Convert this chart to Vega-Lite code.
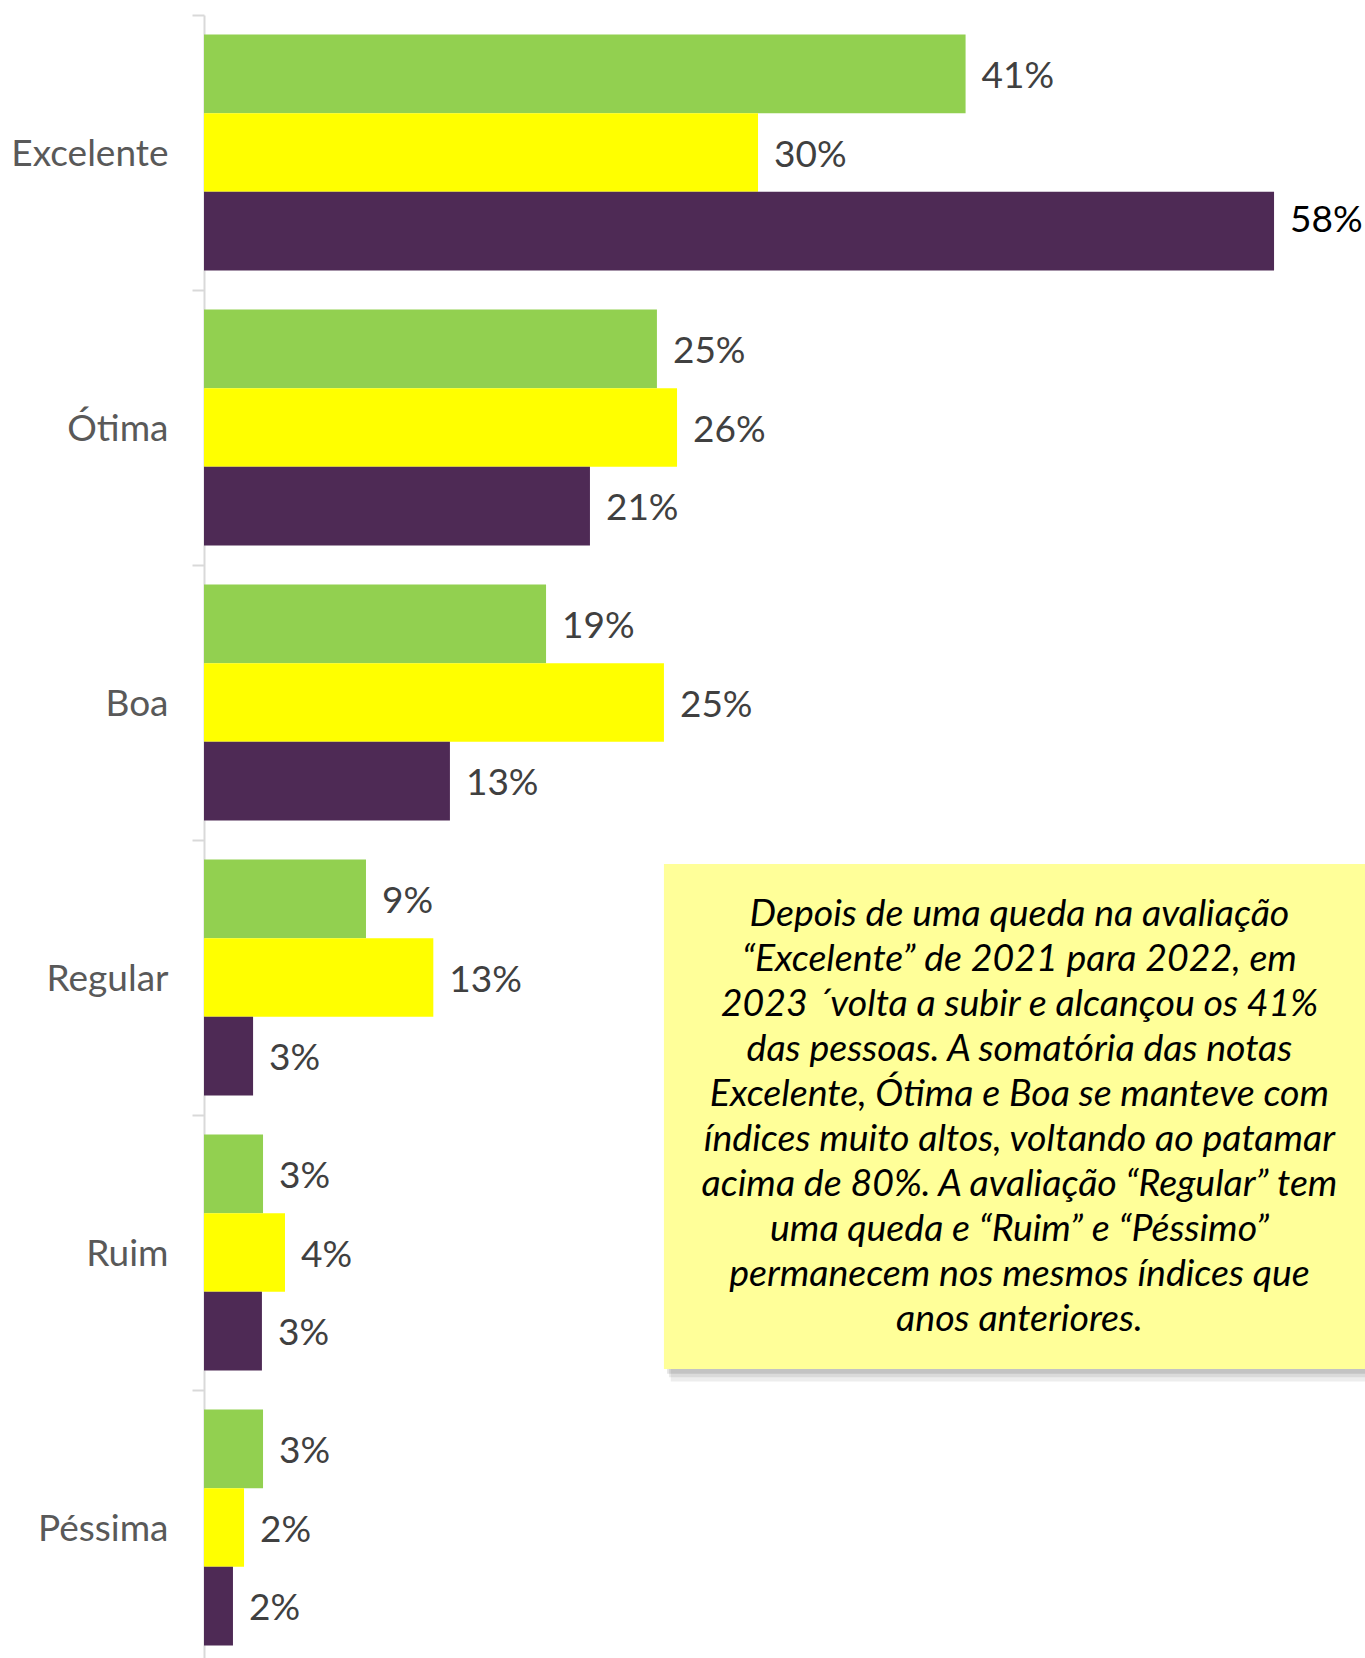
{
  "$schema": "https://vega.github.io/schema/vega-lite/v6.json",
  "width": 1161,
  "height": 1643,
  "autosize": {"type": "none"},
  "padding": {"left": 204, "top": 15, "right": 0, "bottom": 0},
  "background": "#ffffff",
  "config": {"view": {"stroke": null}, "font": "Lato", "text": {"lineBreak": "\n"}},
  "layer": [
    {
      "data": {
        "values": [
          {"avaliacao": "Excelente", "ano": "2023", "valor": 41.28, "rotulo": "41%"},
          {"avaliacao": "Excelente", "ano": "2022", "valor": 30.03, "rotulo": "30%"},
          {"avaliacao": "Excelente", "ano": "2021", "valor": 58.0, "rotulo": "58%"},
          {"avaliacao": "Ótima", "ano": "2023", "valor": 24.55, "rotulo": "25%"},
          {"avaliacao": "Ótima", "ano": "2022", "valor": 25.64, "rotulo": "26%"},
          {"avaliacao": "Ótima", "ano": "2021", "valor": 20.92, "rotulo": "21%"},
          {"avaliacao": "Boa", "ano": "2023", "valor": 18.54, "rotulo": "19%"},
          {"avaliacao": "Boa", "ano": "2022", "valor": 24.93, "rotulo": "25%"},
          {"avaliacao": "Boa", "ano": "2021", "valor": 13.33, "rotulo": "13%"},
          {"avaliacao": "Regular", "ano": "2023", "valor": 8.78, "rotulo": "9%"},
          {"avaliacao": "Regular", "ano": "2022", "valor": 12.43, "rotulo": "13%"},
          {"avaliacao": "Regular", "ano": "2021", "valor": 2.66, "rotulo": "3%"},
          {"avaliacao": "Ruim", "ano": "2023", "valor": 3.2, "rotulo": "3%"},
          {"avaliacao": "Ruim", "ano": "2022", "valor": 4.39, "rotulo": "4%"},
          {"avaliacao": "Ruim", "ano": "2021", "valor": 3.14, "rotulo": "3%"},
          {"avaliacao": "Péssima", "ano": "2023", "valor": 3.2, "rotulo": "3%"},
          {"avaliacao": "Péssima", "ano": "2022", "valor": 2.17, "rotulo": "2%"},
          {"avaliacao": "Péssima", "ano": "2021", "valor": 1.57, "rotulo": "2%"}
        ]
      },
      "encoding": {
        "y": {
          "field": "avaliacao",
          "type": "nominal",
          "sort": ["Excelente", "Ótima", "Boa", "Regular", "Ruim", "Péssima"],
          "scale": {"paddingInner": 0, "paddingOuter": 0, "range": [0, 1650]},
          "axis": {
            "title": null,
            "tickBand": "extent",
            "domainColor": "#D9D9D9",
            "domainWidth": 2,
            "tickColor": "#D9D9D9",
            "tickWidth": 2,
            "tickSize": 12,
            "labelFont": "Lato",
            "labelFontSize": 37,
            "labelColor": "#595959",
            "labelPadding": 24,
            "labelOffset": 2,
            "grid": false
          }
        },
        "yOffset": {
          "field": "ano",
          "type": "nominal",
          "sort": ["2023", "2022", "2021"],
          "scale": {"paddingInner": 0, "paddingOuter": 0.248}
        }
      },
      "layer": [
        {
          "mark": {"type": "bar"},
          "encoding": {
            "x": {"field": "valor", "type": "quantitative", "scale": {"domain": [0, 62.93], "nice": false, "zero": true}, "axis": null},
            "color": {
              "field": "ano",
              "type": "nominal",
              "scale": {"domain": ["2023", "2022", "2021"], "range": ["#92D050", "#FFFF00", "#4E2A55"]},
              "legend": null
            }
          }
        },
        {
          "transform": [{"filter": "datum.valor <= 50"}],
          "mark": {"type": "text", "align": "left", "baseline": "middle", "dx": 16, "dy": 3, "fontSize": 37, "font": "Lato", "color": "#404040"},
          "encoding": {
            "x": {"field": "valor", "type": "quantitative"},
            "text": {"field": "rotulo"}
          }
        },
        {
          "transform": [{"filter": "datum.valor > 50"}],
          "mark": {"type": "text", "align": "left", "baseline": "middle", "dx": 16, "dy": -10, "fontSize": 37, "font": "Lato", "color": "#000000"},
          "encoding": {
            "x": {"field": "valor", "type": "quantitative"},
            "text": {"field": "rotulo"}
          }
        }
      ]
    },
    {
      "data": {
        "values": [
          {"nota": "Depois de uma queda na avaliação\n“Excelente” de 2021 para 2022, em\n2023 ´volta a subir e alcançou os 41%\ndas pessoas. A somatória das notas\nExcelente, Ótima e Boa se manteve com\níndices muito altos, voltando ao patamar\nacima de 80%. A avaliação “Regular” tem\numa queda e “Ruim” e “Péssimo”\npermanecem nos mesmos índices que\nanos anteriores."}
        ]
      },
      "layer": [
        {
          "mark": {"type": "rect", "color": "#000000", "opacity": 0.07},
          "encoding": {
            "x": {"datum": 25.3, "type": "quantitative", "scale": {"domain": [0, 62.93], "nice": false}},
            "x2": {"datum": 62.93},
            "y": {"datum": 3.14, "type": "quantitative", "scale": {"domain": [0, 6], "reverse": true, "nice": false, "zero": false}, "axis": null},
            "y2": {"datum": 4.99}
          }
        },
        {
          "mark": {"type": "rect", "color": "#000000", "opacity": 0.08},
          "encoding": {
            "x": {"datum": 25.2, "type": "quantitative"},
            "x2": {"datum": 62.93},
            "y": {"datum": 3.13, "type": "quantitative"},
            "y2": {"datum": 4.975}
          }
        },
        {
          "mark": {"type": "rect", "color": "#000000", "opacity": 0.1},
          "encoding": {
            "x": {"datum": 25.1, "type": "quantitative"},
            "x2": {"datum": 62.93},
            "y": {"datum": 3.12, "type": "quantitative"},
            "y2": {"datum": 4.962}
          }
        },
        {
          "mark": {"type": "rect", "color": "#FFFF99"},
          "encoding": {
            "x": {"datum": 24.93, "type": "quantitative"},
            "x2": {"datum": 62.93},
            "y": {"datum": 3.1, "type": "quantitative"},
            "y2": {"datum": 4.945}
          }
        },
        {
          "mark": {"type": "text", "align": "center", "baseline": "middle", "fontSize": 37.5, "font": "Lato", "fontStyle": "italic", "lineHeight": 45, "color": "#000000"},
          "encoding": {
            "x": {"datum": 44.2, "type": "quantitative"},
            "y": {"datum": 3.285, "type": "quantitative"},
            "text": {"field": "nota"}
          }
        }
      ]
    }
  ],
  "resolve": {"scale": {"y": "independent"}}
}
